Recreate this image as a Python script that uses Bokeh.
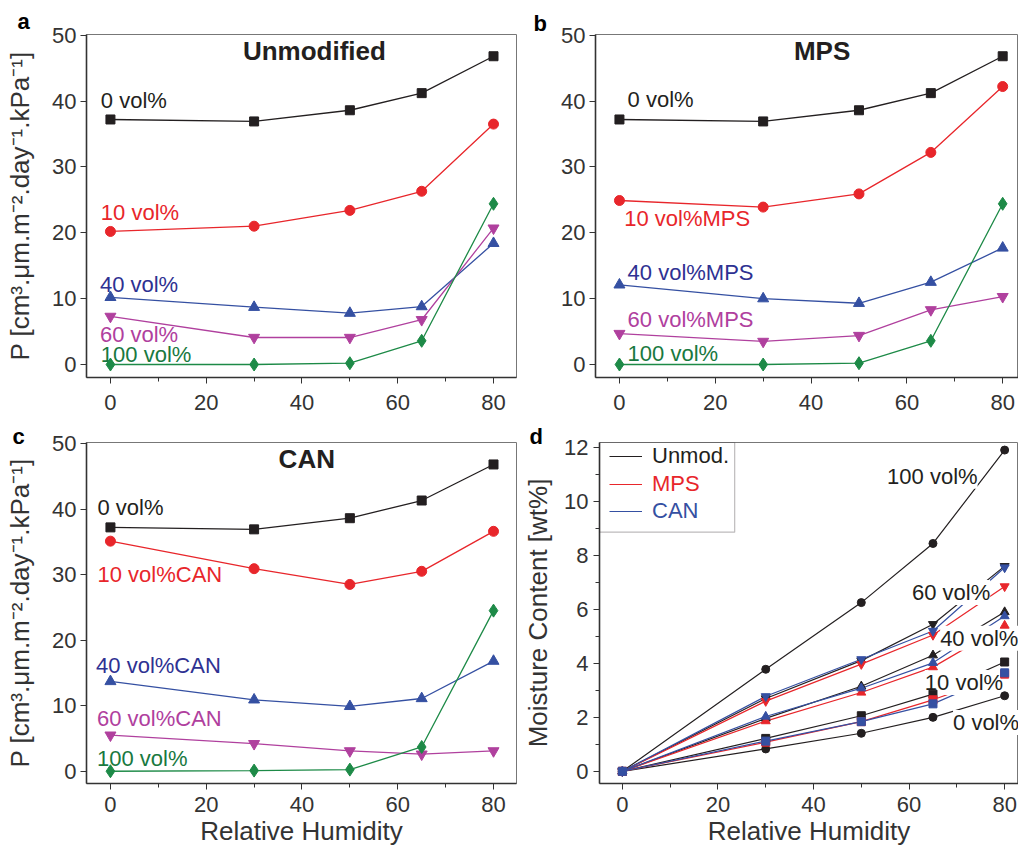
from bokeh.plotting import figure
from bokeh.layouts import column, row
from bokeh.models import (Label, Legend, LegendItem, BoxAnnotation, Title,
                          SingleIntervalTicker, Range1d)
from bokeh.embed import file_html
from bokeh.resources import INLINE

FONT = "Liberation Sans"

# ---------------- data ----------------
rh = [0, 30, 50, 65, 80]

# panel a: unmodified
a_0 = [37.2, 36.9, 38.6, 41.2, 46.8]
a_10 = [20.2, 21.0, 23.4, 26.3, 36.5]
a_40 = [10.2, 8.7, 7.8, 8.8, 18.4]
a_60 = [7.3, 4.1, 4.1, 6.8, 20.7]
a_100 = [0.0, 0.0, 0.2, 3.6, 24.4]

# panel b: MPS
b_0 = [37.2, 36.9, 38.6, 41.2, 46.8]
b_10 = [24.9, 23.9, 25.9, 32.2, 42.2]
b_40 = [12.1, 10.0, 9.3, 12.5, 17.7]
b_60 = [4.7, 3.5, 4.4, 8.3, 10.3]
b_100 = [0.0, 0.0, 0.2, 3.6, 24.4]

# panel c: CAN
c_0 = [37.2, 36.9, 38.6, 41.3, 46.8]
c_10 = [35.1, 30.9, 28.5, 30.5, 36.6]
c_40 = [13.7, 10.9, 9.9, 11.1, 16.8]
c_60 = [5.5, 4.2, 3.1, 2.6, 3.1]
c_100 = [0.0, 0.1, 0.25, 3.7, 24.5]

# panel d: moisture content
d_unmod_0 = [0.0, 0.83, 1.41, 2.0, 2.8]
d_unmod_10 = [0.0, 1.22, 2.06, 2.86, 4.05]
d_unmod_40 = [0.0, 1.96, 3.15, 4.3, 5.9]
d_unmod_60 = [0.0, 2.7, 4.1, 5.45, 7.6]
d_unmod_100 = [0.0, 3.78, 6.25, 8.44, 11.9]
d_mps_10 = [0.0, 1.08, 1.84, 2.65, 3.6]
d_mps_40 = [0.0, 1.86, 2.92, 3.86, 5.4]
d_mps_60 = [0.0, 2.6, 3.97, 5.05, 6.85]
d_can_10 = [0.0, 1.12, 1.84, 2.5, 3.65]
d_can_40 = [0.0, 2.03, 3.08, 4.02, 5.75]
d_can_60 = [0.0, 2.78, 4.15, 5.2, 7.55]

# annotation texts
a_labels = ["0 vol%", "10 vol%", "40 vol%", "60 vol%", "100 vol%"]
a_lab_x = [-2.0, -2.0, -2.2, -2.2, -2.0]
a_lab_y = [40.1, 23.1, 12.2, 4.6, 1.5]
b_labels = ["0 vol%", "10 vol%MPS", "40 vol%MPS", "60 vol%MPS", "100 vol%"]
b_lab_x = [1.7, 1.0, 1.7, 1.7, 1.7]
b_lab_y = [40.3, 22.1, 13.9, 6.8, 1.6]
c_labels = ["0 vol%", "10 vol%CAN", "40 vol%CAN", "60 vol%CAN", "100 vol%"]
c_lab_x = [-2.7, -2.7, -3.0, -2.8, -2.8]
c_lab_y = [40.2, 30.0, 16.2, 8.0, 2.0]
d_labels = ["100 vol%", "60 vol%", "40 vol%", "10 vol%", "0 vol%"]
d_lab_x = [55.4, 60.6, 66.5, 63.3, 69.2]
d_lab_y = [10.93, 6.62, 4.93, 3.29, 1.81]
legend_labels = ["Unmod.", "MPS", "CAN"]
panel_letters = ["a", "b", "c", "d"]

# ---------------- styles ----------------
BLACK = "#231f20"
RED = "#e8262b"
BLUE = "#3550a2"
NAVY = "#2e3192"
MAGENTA = "#b0409e"
GREEN = "#1d8a47"
GREEN_T = "#19793f"
AXIS = "#333333"

series_style = [
    (BLACK, "square", 9),
    (RED, "circle", 10),
    (BLUE, "triangle", 11),
    (MAGENTA, "inverted_triangle", 11),
    (GREEN, "diamond", 13),
]
label_colors = [BLACK, RED, NAVY, MAGENTA, GREEN_T]


def base_fig(width, height, xr, yr, borders, y_interval, y_minor, xlabel, ylabel,
             ylabel_standoff=14):
    p = figure(width=width, height=height, x_range=Range1d(*xr), y_range=Range1d(*yr),
               output_backend="svg", toolbar_location=None,
               min_border_left=borders[0], min_border_right=borders[1],
               min_border_top=borders[2], min_border_bottom=borders[3])
    p.grid.visible = False
    p.outline_line_color = "#777777"
    p.outline_line_width = 1
    p.xaxis.ticker = SingleIntervalTicker(interval=20, num_minor_ticks=2)
    p.yaxis.ticker = SingleIntervalTicker(interval=y_interval, num_minor_ticks=y_minor)
    for ax in p.axis:
        ax.axis_line_color = AXIS
        ax.axis_line_width = 1.6
        ax.major_tick_line_color = AXIS
        ax.minor_tick_line_color = AXIS
        ax.major_tick_in = 0
        ax.major_tick_out = 6
        ax.minor_tick_in = 0
        ax.minor_tick_out = 4
        ax.major_label_text_font = FONT
        ax.major_label_text_font_size = "22px"
        ax.major_label_text_color = AXIS
        ax.axis_label_text_font = FONT
        ax.axis_label_text_font_size = "26px"
        ax.axis_label_text_font_style = "normal"
        ax.axis_label_text_color = AXIS
    p.xaxis.major_label_standoff = 11
    p.yaxis.major_label_standoff = 4
    if y_minor == 0:
        p.yaxis.minor_tick_line_color = None
    if xlabel:
        p.xaxis.axis_label = xlabel
        p.xaxis.major_label_standoff = 7
        p.xaxis.axis_label_standoff = 1
    if ylabel:
        p.yaxis.axis_label = ylabel
        p.yaxis.axis_label_standoff = ylabel_standoff
    return p


def add_series(p, ys_list, labels, lab_x, lab_y, title, title_xy):
    for ys, (col, marker, size) in zip(ys_list, series_style):
        p.line(rh, ys, line_color=col, line_width=1.3)
        p.scatter(rh, ys, marker=marker, size=size, fill_color=col, line_color=col,
                  level="overlay")
    for t, x, y, col in zip(labels, lab_x, lab_y, label_colors):
        p.add_layout(Label(x=x, y=y, text=t, text_font=FONT, text_font_size="22px",
                           text_color=col, text_baseline="middle", text_align="left"))
    p.add_layout(Label(x=title_xy[0], y=title_xy[1], text=title, text_font=FONT,
                       text_font_size="26px", text_font_style="bold", text_color=BLACK,
                       text_baseline="middle", text_align="center"))


def add_letter(p, letter, offset, standoff):
    p.add_layout(Title(text=letter, align="left", offset=offset, standoff=standoff,
                       text_font=FONT, text_font_size="22px", text_font_style="bold",
                       text_color="black"), "above")


PLABEL = "P [cm³.μm.m⁻².day⁻¹.kPa⁻¹]"

# panel a
pa = base_fig(520, 420, (-5.0, 84.8), (-1.97, 50.1), (86, 4, 34, 43), 10, 0, None, PLABEL)
add_series(pa, [a_0, a_10, a_40, a_60, a_100], a_labels, a_lab_x, a_lab_y,
           "Unmodified", (42.6, 47.6))
add_letter(pa, panel_letters[0], -69, 1)

# panel b
pb = base_fig(498, 420, (-5.0, 83.3), (-1.97, 50.1), (75, 0, 34, 43), 10, 0, None, None)
add_series(pb, [b_0, b_10, b_40, b_60, b_100], b_labels, b_lab_x, b_lab_y,
           "MPS", (42.3, 47.6))
add_letter(pb, panel_letters[1], -62, -3)

# panel c
pc = base_fig(520, 434, (-5.0, 84.8), (-1.87, 50.15), (86, 4, 22, 70), 10, 0,
              "Relative Humidity", PLABEL)
add_series(pc, [c_0, c_10, c_40, c_60, c_100], c_labels, c_lab_x, c_lab_y,
           "CAN", (41.0, 47.7))
add_letter(pc, panel_letters[2], -74, -12)

# panel d
pd_ = base_fig(498, 434, (-4.79, 82.9), (-0.45, 12.18), (77, 0, 21, 71), 2, 2,
               "Relative Humidity", "Moisture Content [wt%]", ylabel_standoff=8)
pd_.yaxis.major_label_standoff = 5

d_series = [
    (d_unmod_0, BLACK, "circle", 8),
    (d_unmod_10, BLACK, "square", 8),
    (d_unmod_40, BLACK, "triangle", 9),
    (d_unmod_60, BLACK, "inverted_triangle", 9),
    (d_unmod_100, BLACK, "circle", 8),
    (d_mps_10, RED, "square", 8),
    (d_mps_40, RED, "triangle", 9),
    (d_mps_60, RED, "inverted_triangle", 9),
    (d_can_10, BLUE, "square", 8),
    (d_can_40, BLUE, "triangle", 9),
    (d_can_60, BLUE, "inverted_triangle", 9),
]
line_r = {}
for ys, col, marker, size in d_series:
    r = pd_.line(rh, ys, line_color=col, line_width=1.2)
    line_r.setdefault(col, r)
    pd_.scatter(rh, ys, marker=marker, size=size, fill_color=col, line_color=col,
                level="overlay")

for t, x, y in zip(d_labels, d_lab_x, d_lab_y):
    pd_.add_layout(Label(x=x, y=y, text=t, text_font=FONT, text_font_size="22px",
                         text_color=BLACK, text_baseline="middle", text_align="left",
                         background_fill_color="white"))

pd_.add_layout(BoxAnnotation(right=23.5, bottom=8.86, fill_color=None, fill_alpha=0,
                             line_color=BLACK, line_width=1.2))
for i, (lab, col) in enumerate(zip(legend_labels, [BLACK, RED, BLUE])):
    leg = Legend(items=[LegendItem(label=lab, renderers=[line_r[col]])],
                 location=(10, 314 - 27.5 * i), label_text_color=col,
                 label_text_font=FONT, label_text_font_size="22px",
                 glyph_width=33, glyph_height=20, label_standoff=10, label_height=20,
                 padding=0, margin=0, spacing=0, border_line_color=None,
                 background_fill_alpha=0)
    pd_.add_layout(leg)
add_letter(pd_, panel_letters[3], -70, -12)

layout = column(row(pa, pb), row(pc, pd_))

open("out.html", "w").write(file_html(layout, INLINE))
